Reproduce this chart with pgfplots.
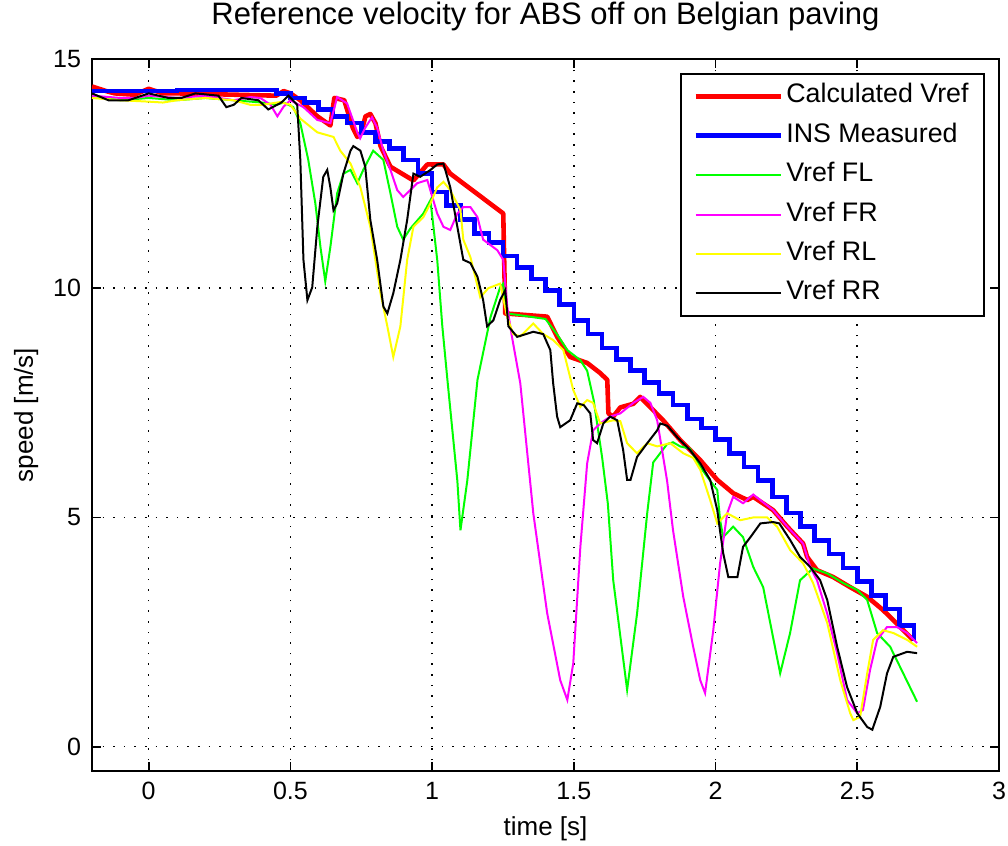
\documentclass[border=0pt]{standalone}
\usepackage{fontspec}
\setmainfont{Liberation Sans}
\usepackage{pgfplots}
\pgfplotsset{compat=1.18}
\definecolor{mred}{RGB}{255,0,0}
\definecolor{mblue}{RGB}{0,0,255}
\definecolor{mgreen}{RGB}{0,255,0}
\definecolor{mmagenta}{RGB}{255,0,255}
\definecolor{myellow}{RGB}{255,255,0}
\begin{document}
\begin{tikzpicture}
\begin{axis}[
  scale only axis,
  width=453.5pt, height=356pt,
  xmin=-0.2, xmax=3, ymin=-0.53, ymax=15,
  xtick={0,0.5,1,1.5,2,2.5,3},
  xticklabels={0,0.5,1,1.5,2,2.5,3},
  ytick={0,5,10,15},
  yticklabels={0,5,10,15},
  grid=major,
  major grid style={black, line width=0.8pt, dash pattern=on 0.8pt off 4.5pt},
  axis line style={line width=0.9pt},
  every tick/.style={black, line width=0.9pt},
  major tick length=4.5pt,
  tick label style={font=\fontsize{12.5}{14}\selectfont},
  xticklabel style={yshift=-2pt},
  yticklabel style={xshift=-2pt},
  title={Reference velocity for ABS off on Belgian paving},
  title style={font=\fontsize{15.5}{18}\selectfont, at={(axis description cs:0.5,1)}, anchor=base, yshift=11pt},
  xlabel={time [s]},
  xlabel style={font=\fontsize{13}{15}\selectfont, at={(axis description cs:0.5,0)}, anchor=base, yshift=-32.5pt},
  ylabel={speed [m/s]},
  ylabel style={font=\fontsize{13}{15}\selectfont, at={(axis description cs:0,0.5)}, anchor=base, yshift=29.5pt},
  legend cell align=left,
  legend image code/.code={\draw[#1] (0pt,0pt) -- (42.5pt,0pt);},
  legend style={at={(1,1)}, anchor=north east, xshift=-7pt, yshift=-7pt,
    draw=black, line width=0.9pt, font=\fontsize{13.4}{15}\selectfont,
    inner xsep=6pt, inner ysep=4.75pt, row sep=6.7pt,
    nodes={inner xsep=1.75pt, inner ysep=0pt, text height=9.8pt, text depth=3.2pt}},
]
% Calculated Vref
\addplot[color=mred, line width=2.3pt, line join=round] coordinates {
(-0.2,14.4) (-0.15,14.3) (-0.12,14.25) (-0.05,14.22) (0,14.35) (0.05,14.25) (0.1,14.25) (0.45,14.2) (0.476,14.3) (0.5,14.25) (0.535,14.1) (0.595,13.75) (0.641,13.55) (0.655,14.15) (0.69,14.1) (0.72,13.5) (0.736,13.3) (0.75,13.4) (0.765,13.75) (0.782,13.8) (0.8,13.6) (0.818,13.1) (0.853,12.65) (0.934,12.35) (0.983,12.7) (1.04,12.7) (1.064,12.5) (1.251,11.63) (1.258,9.45) (1.406,9.38) (1.441,8.94) (1.487,8.5) (1.547,8.37) (1.593,8.15) (1.618,8.0) (1.622,7.27) (1.639,7.2) (1.664,7.4) (1.71,7.48) (1.734,7.63) (1.815,7.12) (1.875,6.69) (1.946,6.25) (2.006,5.82) (2.062,5.53) (2.112,5.38) (2.133,5.45) (2.203,5.16) (2.253,4.8) (2.309,4.43) (2.323,4.14) (2.358,3.85) (2.415,3.7) (2.475,3.48) (2.535,3.27) (2.591,2.98) (2.651,2.61) (2.697,2.33)
};
\addlegendentry{Calculated Vref}
% INS Measured
\addplot[color=mblue, line width=2.3pt, const plot] coordinates {
(-0.2,14.3) (0.1,14.32) (0.45,14.25) (0.5,14.15) (0.55,14.05) (0.6,13.9) (0.65,13.75) (0.7,13.6) (0.75,13.4) (0.8,13.2) (0.85,13.05) (0.9,12.8) (0.95,12.5) (1.0,12.1) (1.05,11.8) (1.1,11.5) (1.15,11.2) (1.2,11.0) (1.25,10.7) (1.3,10.45) (1.35,10.2) (1.4,9.95) (1.45,9.65) (1.5,9.3) (1.55,9.0) (1.6,8.7) (1.65,8.45) (1.7,8.2) (1.75,7.95) (1.8,7.7) (1.85,7.45) (1.9,7.15) (1.95,6.95) (2.0,6.7) (2.05,6.4) (2.1,6.1) (2.15,5.8) (2.2,5.45) (2.25,5.1) (2.3,4.8) (2.35,4.5) (2.4,4.2) (2.45,3.9) (2.5,3.6) (2.55,3.3) (2.6,3.0) (2.65,2.65) (2.7,2.3)
};
\addlegendentry{INS Measured}
% Vref FL
\addplot[color=mgreen, line width=1pt] coordinates {
(-0.2,14.2) (-0.1,14.1) (0,14.15) (0.1,14.1) (0.2,14.15) (0.3,14.1) (0.4,14.05) (0.45,14.0) (0.476,14.05) (0.51,13.95) (0.535,13.6) (0.563,12.8) (0.588,11.85) (0.606,10.9) (0.623,10.15) (0.641,10.9) (0.665,12.07) (0.687,12.5) (0.712,12.58) (0.736,12.29) (0.757,12.58) (0.792,13.0) (0.828,12.8) (0.853,12.07) (0.877,11.34) (0.898,11.06) (0.923,11.3) (0.969,11.63) (0.994,11.92) (1.018,10.62) (1.036,9.17) (1.054,8.0) (1.089,5.8) (1.1,4.72) (1.124,5.8) (1.16,8.0) (1.206,9.37) (1.24,10.02) (1.251,10.1) (1.265,9.45) (1.4,9.33) (1.44,9.0) (1.477,8.65) (1.523,8.43) (1.547,8.2) (1.57,7.56) (1.6,6.3) (1.62,5.3) (1.639,3.63) (1.688,1.24) (1.723,2.9) (1.759,5.1) (1.78,6.2) (1.829,6.6) (1.85,6.64) (1.875,6.55) (1.91,6.5) (1.946,6.1) (1.981,5.8) (2.006,5.6) (2.016,4.94) (2.027,4.57) (2.062,4.8) (2.097,4.57) (2.133,3.92) (2.168,3.48) (2.228,1.6) (2.263,2.48) (2.298,3.63) (2.344,3.89) (2.394,3.78) (2.45,3.57) (2.5,3.42) (2.535,3.2) (2.57,2.48) (2.616,2.18) (2.651,1.74) (2.711,0.98)
};
\addlegendentry{Vref FL}
% Vref FR
\addplot[color=mmagenta, line width=1pt] coordinates {
(-0.2,14.2) (-0.1,14.15) (-0.05,14.15) (0,14.2) (0.1,14.15) (0.2,14.2) (0.3,14.1) (0.359,14.17) (0.394,14.15) (0.43,14.0) (0.454,13.75) (0.476,13.96) (0.5,14.1) (0.546,13.95) (0.595,13.67) (0.641,13.6) (0.665,14.17) (0.7,14.03) (0.736,13.4) (0.746,13.27) (0.764,13.5) (0.788,13.73) (0.806,13.5) (0.828,13.0) (0.853,12.58) (0.877,12.14) (0.898,11.99) (0.923,12.14) (0.947,12.29) (0.983,12.36) (1.018,11.63) (1.04,11.34) (1.064,11.27) (1.089,11.63) (1.11,11.77) (1.135,11.77) (1.16,11.55) (1.18,11.06) (1.23,10.83) (1.251,10.62) (1.265,9.6) (1.28,9.0) (1.311,7.93) (1.357,5.09) (1.406,2.91) (1.452,1.45) (1.477,1.02) (1.498,1.82) (1.523,4.36) (1.547,6.18) (1.568,6.9) (1.593,7.05) (1.628,7.2) (1.664,7.27) (1.71,7.5) (1.745,7.63) (1.77,7.5) (1.794,7.12) (1.829,5.8) (1.85,4.72) (1.886,3.27) (1.921,2.18) (1.946,1.45) (1.963,1.17) (1.992,2.54) (2.016,4.0) (2.041,5.09) (2.062,5.45) (2.097,5.31) (2.133,5.5) (2.203,5.16) (2.253,4.8) (2.309,4.43) (2.334,3.92) (2.358,3.63) (2.394,2.9) (2.429,2.04) (2.464,1.02) (2.5,0.73) (2.52,0.8) (2.545,1.67) (2.57,2.33) (2.605,2.61) (2.64,2.61) (2.676,2.48) (2.711,2.26)
};
\addlegendentry{Vref FR}
% Vref RL
\addplot[color=myellow, line width=1pt] coordinates {
(-0.2,14.15) (-0.1,14.1) (0,14.07) (0.05,14.05) (0.1,14.1) (0.2,14.15) (0.3,14.1) (0.359,14.0) (0.4,14.0) (0.464,14.06) (0.5,14.0) (0.535,13.7) (0.595,13.4) (0.652,13.3) (0.676,13.0) (0.712,12.72) (0.747,12.2) (0.782,11.34) (0.818,9.89) (0.842,9.17) (0.863,8.5) (0.888,9.17) (0.912,10.62) (0.934,11.34) (0.969,11.55) (0.994,11.85) (1.018,12.2) (1.04,12.32) (1.064,12.14) (1.1,11.7) (1.11,11.06) (1.135,10.68) (1.17,9.8) (1.198,10.0) (1.24,10.1) (1.265,9.37) (1.286,9.0) (1.311,8.95) (1.357,9.23) (1.392,9.0) (1.427,8.87) (1.463,8.65) (1.498,7.78) (1.523,7.41) (1.547,7.56) (1.568,7.5) (1.593,7.05) (1.639,7.12) (1.664,7.1) (1.688,6.62) (1.723,6.4) (1.759,6.62) (1.794,6.55) (1.84,6.62) (1.886,6.4) (1.921,6.3) (1.946,6.04) (1.981,5.38) (2.006,4.87) (2.041,5.09) (2.087,4.94) (2.133,5.0) (2.182,5.0) (2.217,4.8) (2.263,4.29) (2.309,4.0) (2.344,3.57) (2.394,2.7) (2.44,1.45) (2.475,0.73) (2.486,0.58) (2.51,0.65) (2.535,1.6) (2.556,2.33) (2.591,2.54) (2.627,2.48) (2.676,2.33) (2.711,2.18)
};
\addlegendentry{Vref RL}
% Vref RR
\addplot[color=black, line width=1pt] coordinates {
(-0.2,14.25) (-0.142,14.1) (-0.071,14.1) (0,14.25) (0.07,14.15) (0.115,14.15) (0.165,14.25) (0.246,14.2) (0.274,13.95) (0.3,14.0) (0.327,14.15) (0.387,14.1) (0.422,13.9) (0.468,14.05) (0.493,14.2) (0.524,14.0) (0.535,12.8) (0.546,10.62) (0.56,9.74) (0.577,10.02) (0.595,11.34) (0.616,12.43) (0.63,12.58) (0.641,12.2) (0.652,11.7) (0.665,11.85) (0.687,12.5) (0.712,13.0) (0.722,13.1) (0.747,13.0) (0.764,12.65) (0.782,11.49) (0.806,10.62) (0.828,9.6) (0.842,9.45) (0.863,9.89) (0.888,10.62) (0.912,11.49) (0.934,12.5) (0.958,12.43) (0.994,12.58) (1.018,12.7) (1.04,12.72) (1.064,12.2) (1.089,11.34) (1.11,10.62) (1.135,10.55) (1.16,10.25) (1.18,9.74) (1.194,9.17) (1.216,9.3) (1.24,9.74) (1.258,9.96) (1.269,9.17) (1.3,8.94) (1.357,9.05) (1.392,9.0) (1.417,8.65) (1.427,7.93) (1.441,7.2) (1.452,6.97) (1.487,7.12) (1.512,7.49) (1.535,7.45) (1.558,7.27) (1.568,6.69) (1.582,6.62) (1.604,7.05) (1.628,7.2) (1.653,7.12) (1.674,6.47) (1.688,5.82) (1.7,5.82) (1.723,6.32) (1.759,6.62) (1.794,6.9) (1.805,7.05) (1.83,7.0) (1.865,6.75) (1.91,6.47) (1.946,6.18) (1.981,5.82) (2.006,5.16) (2.016,4.7) (2.027,4.22) (2.045,3.7) (2.077,3.7) (2.097,4.36) (2.123,4.57) (2.158,4.87) (2.203,4.9) (2.225,4.87) (2.263,4.51) (2.298,4.14) (2.334,3.92) (2.369,3.63) (2.394,3.2) (2.429,2.18) (2.464,1.3) (2.5,0.73) (2.535,0.43) (2.553,0.37) (2.581,0.87) (2.605,1.6) (2.627,1.96) (2.676,2.07) (2.711,2.04)
};
\addlegendentry{Vref RR}
\end{axis}
\pgfresetboundingbox
\path (-46pt,-37.5pt) rectangle (458pt,385.5pt);
\end{tikzpicture}
\end{document}
